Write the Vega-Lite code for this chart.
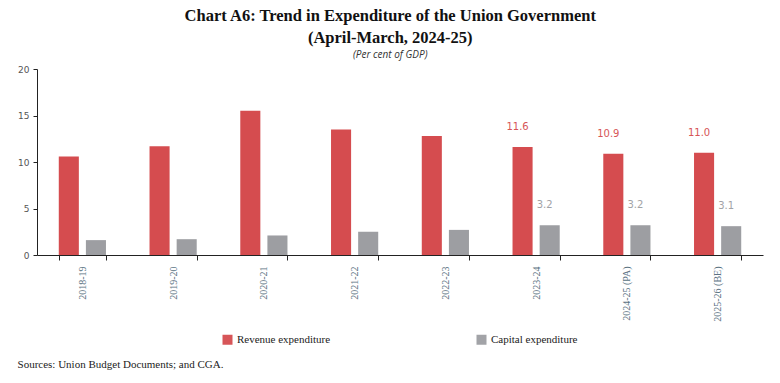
{
  "$schema": "https://vega.github.io/schema/vega-lite/v6.json",
  "background": "white",
  "padding": {"left": 17, "top": 7, "right": 6, "bottom": 4},
  "title": {
    "text": "Sources: Union Budget Documents; and CGA.",
    "orient": "bottom",
    "anchor": "start",
    "font": "Liberation Serif",
    "fontSize": 11,
    "fontWeight": "normal",
    "color": "#222",
    "offset": 14
  },
  "vconcat": [
    {
      "width": 726,
      "height": 186,
      "title": {
        "text": ["Chart A6: Trend in Expenditure of the Union Government", "(April-March, 2024-25)"],
        "subtitle": "(Per cent of GDP)",
        "anchor": "middle",
        "frame": "bounds",
        "font": "Liberation Serif",
        "fontSize": 16.5,
        "fontWeight": "bold",
        "lineHeight": 22,
        "color": "#111",
        "subtitleFont": "Open Sans",
        "subtitleFontSize": 10,
        "subtitleFontStyle": "italic",
        "subtitleColor": "#333",
        "subtitlePadding": 4,
        "offset": 5
      },
      "data": {
        "values": [
          {"year": "2018-19", "type": "Revenue expenditure", "value": 10.6, "label": ""},
          {"year": "2018-19", "type": "Capital expenditure", "value": 1.6, "label": ""},
          {"year": "2019-20", "type": "Revenue expenditure", "value": 11.7, "label": ""},
          {"year": "2019-20", "type": "Capital expenditure", "value": 1.7, "label": ""},
          {"year": "2020-21", "type": "Revenue expenditure", "value": 15.5, "label": ""},
          {"year": "2020-21", "type": "Capital expenditure", "value": 2.1, "label": ""},
          {"year": "2021-22", "type": "Revenue expenditure", "value": 13.5, "label": ""},
          {"year": "2021-22", "type": "Capital expenditure", "value": 2.5, "label": ""},
          {"year": "2022-23", "type": "Revenue expenditure", "value": 12.8, "label": ""},
          {"year": "2022-23", "type": "Capital expenditure", "value": 2.7, "label": ""},
          {"year": "2023-24", "type": "Revenue expenditure", "value": 11.6, "label": "11.6"},
          {"year": "2023-24", "type": "Capital expenditure", "value": 3.2, "label": "3.2"},
          {"year": "2024-25 (PA)", "type": "Revenue expenditure", "value": 10.9, "label": "10.9"},
          {"year": "2024-25 (PA)", "type": "Capital expenditure", "value": 3.2, "label": "3.2"},
          {"year": "2025-26 (BE)", "type": "Revenue expenditure", "value": 11.0, "label": "11.0"},
          {"year": "2025-26 (BE)", "type": "Capital expenditure", "value": 3.1, "label": "3.1"}
        ]
      },
      "encoding": {
        "x": {
          "field": "year",
          "type": "nominal",
          "sort": null,
          "scale": {"paddingInner": 0.48, "paddingOuter": 0.24},
          "axis": {
            "title": null,
            "labelAngle": -90,
            "labelAlign": "right",
            "labelBaseline": "middle",
            "labelFont": "Liberation Serif",
            "labelFontSize": 10,
            "labelColor": "#5a7282",
            "labelPadding": 6,
            "tickBand": "extent",
            "tickSize": 5,
            "tickColor": "#222",
            "domainColor": "#222",
            "domainWidth": 1.2
          }
        },
        "xOffset": {
          "field": "type",
          "type": "nominal",
          "sort": ["Revenue expenditure", "Capital expenditure"],
          "scale": {"paddingInner": 0.26, "paddingOuter": 0}
        },
        "y": {
          "field": "value",
          "type": "quantitative",
          "scale": {"domain": [0, 20], "nice": false},
          "axis": {
            "title": null,
            "values": [0, 5, 10, 15, 20],
            "grid": false,
            "tickSize": 4,
            "tickColor": "#222",
            "domainColor": "#222",
            "labelFont": "DejaVu Sans",
            "labelFontSize": 9,
            "labelColor": "#555",
            "labelPadding": 4
          }
        },
        "color": {
          "field": "type",
          "type": "nominal",
          "sort": ["Revenue expenditure", "Capital expenditure"],
          "scale": {"domain": ["Revenue expenditure", "Capital expenditure"], "range": ["#d54c4f", "#9d9ea2"]},
          "legend": {
            "title": null,
            "orient": "bottom",
            "direction": "horizontal",
            "symbolType": "square",
            "symbolSize": 100,
            "symbolStrokeWidth": 0,
            "labelFont": "Liberation Serif",
            "labelFontSize": 11,
            "labelColor": "#222",
            "columnPadding": 145,
            "offset": 12
          }
        }
      },
      "layer": [
        {"mark": {"type": "bar"}},
        {
          "mark": {"type": "text", "baseline": "bottom", "dx": -5, "dy": -15, "font": "DejaVu Sans", "fontSize": 10, "opacity": 0.95},
          "encoding": {"text": {"field": "label"}}
        }
      ]
    }
  ],
  "config": {
    "view": {"stroke": null},
    "legend": {"labelFont": "Liberation Serif", "layout": {"bottom": {"anchor": "middle"}}}
  }
}
